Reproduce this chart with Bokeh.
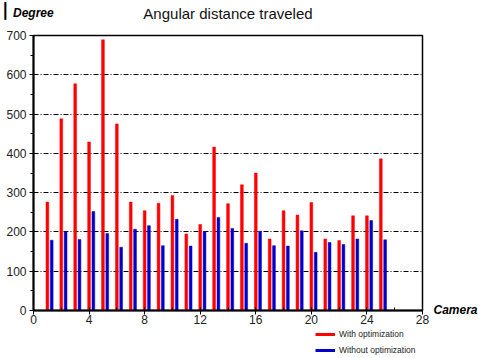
import numpy as np
from bokeh.plotting import figure
from bokeh.layouts import column, row
from bokeh.models import (ColumnDataSource, Range1d, SingleIntervalTicker, FixedTicker,
                          Label, Legend, LegendItem)
from bokeh.embed import file_html
from bokeh.resources import INLINE

cameras = list(range(1, 26))
with_opt = [276, 488, 577, 429, 689, 475, 276, 254, 273, 293, 195, 219, 416,
            272, 320, 350, 182, 254, 243, 275, 182, 178, 241, 241, 386]
without_opt = [179, 201, 181, 252, 196, 161, 207, 216, 165, 232, 164, 201, 237,
               209, 171, 202, 165, 164, 203, 148, 173, 168, 182, 229, 180]
series_names = ["With optimization", "Without optimization"]
title_text = "Angular distance traveled"
y_title = "Degree"
x_title = "Camera"
X_MAX, Y_MAX = 28, 700
grid_ticks = [100, 200, 300, 400, 500, 600]

FONT = "Liberation Sans"
RED = "#FF0000"
BLUE = "#0000CC"

W = 478
HEAD_H = 28
MAIN_H = 300
FOOT_H = 30
LEFT, RIGHT_PX, TOP, BOTTOM = 33, 422, 7, 18   # plot box in main figure
MAIN_W = RIGHT_PX + 9
SIDE_W = W - MAIN_W


def bare(w, h):
    f = figure(width=w, height=h, output_backend="svg", toolbar_location=None,
               x_range=Range1d(0, w), y_range=Range1d(0, h),
               min_border=0, outline_line_color=None,
               background_fill_color="white", border_fill_color="white")
    f.axis.visible = False
    f.grid.visible = False
    f.frame_align = False
    return f


# ---------- header (titles) ----------
head = bare(W, HEAD_H)
head.add_layout(Label(x=4.7, y=HEAD_H - 9, text="|", text_align="center",
                      text_baseline="middle", text_font="DejaVu Sans",
                      text_font_size="18px", text_font_style="bold",
                      text_color="black"))
head.add_layout(Label(x=12.5, y=HEAD_H - 12.3, text=y_title, text_align="left",
                      text_baseline="middle", text_font=FONT,
                      text_font_size="12px", text_font_style="bold italic",
                      text_color="black"))
head.add_layout(Label(x=(LEFT + RIGHT_PX) / 2, y=HEAD_H - 12.5, text=title_text,
                      text_align="center", text_baseline="middle",
                      text_font=FONT, text_font_size="15px",
                      text_color="#111111"))

# ---------- main chart ----------
src = ColumnDataSource(dict(
    cam=cameras,
    cam_b=[c + 0.31 for c in cameras],
    w=with_opt,
    wo=without_opt,
))

p = figure(width=MAIN_W, height=MAIN_H, output_backend="svg", toolbar_location=None,
           x_range=Range1d(0, X_MAX), y_range=Range1d(0, Y_MAX),
           min_border_left=LEFT, min_border_right=MAIN_W - RIGHT_PX,
           min_border_top=TOP, min_border_bottom=BOTTOM,
           background_fill_color="white", border_fill_color="white",
           outline_line_color="black", outline_line_width=1.5)
p.frame_align = False

p.ygrid.ticker = FixedTicker(ticks=grid_ticks)
p.ygrid.grid_line_color = "black"
p.ygrid.grid_line_dash = "5 2 1 2"
p.ygrid.grid_line_width = 1.2
p.xgrid.grid_line_color = None

p.vbar(x="cam", top="w", width=0.2, source=src, fill_color=RED, line_color=RED,
       line_width=0.5)
p.vbar(x="cam_b", top="wo", width=0.2, source=src, fill_color=BLUE,
       line_color=BLUE, line_width=0.5)

p.xaxis.ticker = SingleIntervalTicker(interval=4, num_minor_ticks=2)
p.yaxis.ticker = SingleIntervalTicker(interval=100, num_minor_ticks=2)
for ax in (p.xaxis, p.yaxis):
    ax.axis_line_color = "black"
    ax.axis_line_width = 2
    ax.major_tick_line_color = "black"
    ax.minor_tick_line_color = "black"
    ax.major_label_text_font = FONT
    ax.major_label_text_font_size = "12px"
    ax.major_label_text_color = "#222222"
p.xaxis.major_tick_out = 4
p.xaxis.major_tick_in = 3
p.xaxis.minor_tick_out = 0
p.xaxis.minor_tick_in = 3
p.xaxis.major_label_standoff = 0
p.yaxis.major_tick_out = 4
p.yaxis.major_tick_in = 0
p.yaxis.minor_tick_out = 3
p.yaxis.minor_tick_in = 0
p.yaxis.major_label_standoff = 3

# ---------- right side (x axis title) ----------
side = bare(SIDE_W, MAIN_H)
side.add_layout(Label(x=433 - MAIN_W, y=MAIN_H - (309 - HEAD_H), text=x_title,
                      text_align="left", text_baseline="middle",
                      text_font=FONT, text_font_size="12px",
                      text_font_style="bold italic", text_color="black"))

# ---------- footer (legend) ----------
foot = bare(W, FOOT_H)
r1 = foot.line(x=[np.nan], y=[np.nan], line_color=RED, line_width=3)
r2 = foot.line(x=[np.nan], y=[np.nan], line_color=BLUE, line_width=3)
legend = Legend(items=[LegendItem(label=series_names[0], renderers=[r1]),
                       LegendItem(label=series_names[1], renderers=[r2])],
                location=(315, 2), orientation="vertical",
                glyph_width=20, glyph_height=12, label_height=12,
                label_standoff=4, spacing=4, padding=0, margin=0,
                border_line_color=None, background_fill_alpha=0,
                label_text_font=FONT, label_text_font_size="8.5px",
                label_text_color="#222222")
foot.add_layout(legend, "center")

layout = column(head, row(p, side, spacing=0), foot, spacing=0)
open("out.html", "w").write(file_html(layout, INLINE))
